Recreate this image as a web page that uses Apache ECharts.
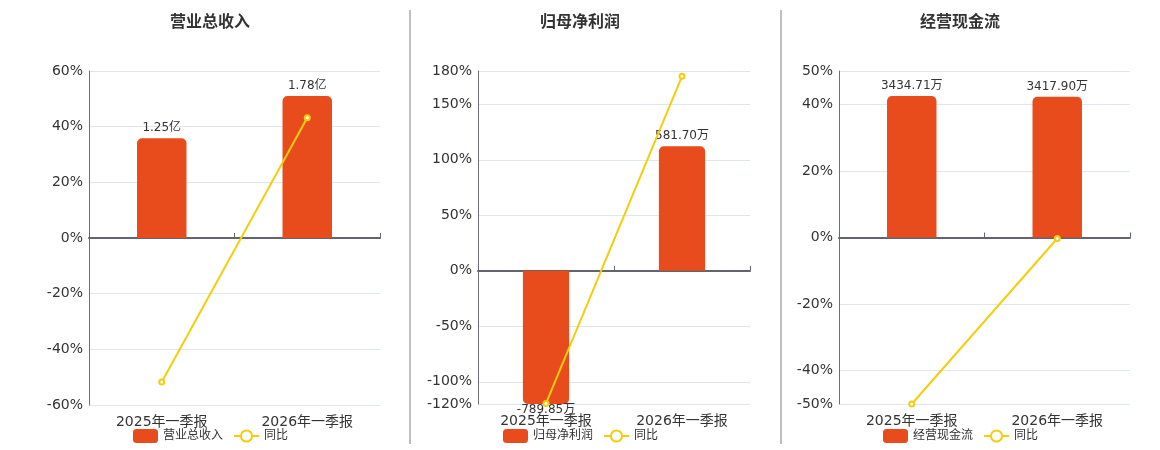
<!DOCTYPE html>
<html>
<head>
<meta charset="utf-8">
<script src="https://cdn.jsdelivr.net/npm/echarts@6/dist/echarts.min.js"></script>
<style>
html,body{margin:0;padding:0;background:#fff;}
#chart{width:1160px;height:450px;}
</style>
</head>
<body>
<div id="chart"></div>
<script>
// ---- data ----
const categories = ['2025年一季报', '2026年一季报'];
const titles = ['营业总收入', '归母净利润', '经营现金流'];
// bar values in 万元
const revenue = [12500, 17800];
const netProfit = [-789.85, 581.70];
const cashFlow = [3434.71, 3417.90];
// year-on-year, %
const revenueYoY = [-51.7, 43.2];
const netProfitYoY = [-119.5, 175.2];
const cashFlowYoY = [-50, -0.3];
// percent axis ranges
const pctMin = [-60, -120, -50];
const pctMax = [60, 180, 50];
// hidden bar-axis ranges (万元), zero aligned with percent axis
const barMin = [-20940, -622, -4045];
const barMax = [20940, 933, 4045];

const barValues = [revenue, netProfit, cashFlow];
const yoyValues = [revenueYoY, netProfitYoY, cashFlowYoY];

const BAR = '#E84C1D';
const LINE = '#F4CD0C';
const FONT = "'DejaVu Sans', 'Noto Sans CJK SC', sans-serif";

const grids = [
  {left: 89, top: 71, width: 291, height: 334},
  {left: 478, top: 71, width: 272, height: 333},
  {left: 839, top: 71, width: 291, height: 333}
];
const centers = [210, 580, 960];
const legendLefts = [133, 503, 883];

function fmt(v) {
  if (Math.abs(v) >= 10000) return (v / 10000).toFixed(2) + '亿';
  return v.toFixed(2) + '万';
}

const option = {
  animation: false,
  textStyle: {fontFamily: FONT},
  title: [], legend: [], grid: [], xAxis: [], yAxis: [], series: [],
  graphic: [
    {type: 'line', shape: {x1: 410, y1: 10, x2: 410, y2: 444}, style: {stroke: '#AAAAAA', lineWidth: 1.5}},
    {type: 'line', shape: {x1: 781, y1: 10, x2: 781, y2: 444}, style: {stroke: '#AAAAAA', lineWidth: 1.5}}
  ]
};

for (let p = 0; p < 3; p++) {
  option.title.push({
    text: titles[p], left: centers[p], top: 15, textAlign: 'center', padding: 0,
    textStyle: {fontSize: 16, fontWeight: 'bold', color: '#333', fontFamily: FONT}
  });
  option.legend.push({
    data: [{name: titles[p], icon: 'roundRect'}, '同比'],
    left: legendLefts[p], top: 429, padding: 0, itemGap: 10, itemWidth: 25, itemHeight: 14,
    textStyle: {fontSize: 12, color: '#333', fontFamily: FONT}
  });
  option.grid.push(grids[p]);
  // labels axis at bottom
  option.xAxis.push({
    type: 'category', gridIndex: p, data: categories,
    axisLine: {show: false}, axisTick: {show: false},
    axisLabel: {fontSize: 14, color: '#333', margin: 10, fontFamily: FONT}
  });
  // zero line axis
  option.xAxis.push({
    type: 'category', gridIndex: p, data: categories,
    axisLine: {show: true, onZero: true, onZeroAxisIndex: 2 * p, lineStyle: {color: '#62656E', width: 2}},
    axisTick: {show: true, length: 5, lineStyle: {color: '#62656E'}},
    axisLabel: {show: false}, splitLine: {show: false}
  });
  option.yAxis.push({
    type: 'value', gridIndex: p, min: pctMin[p], max: pctMax[p],
    axisLine: {show: true, lineStyle: {color: '#6E7079'}},
    axisTick: {show: false},
    axisLabel: {formatter: '{value}%', fontSize: 14, color: '#333', margin: 6, fontFamily: FONT},
    splitLine: {show: true, lineStyle: {color: '#E0E6F1'}}
  });
  option.yAxis.push({
    type: 'value', gridIndex: p, min: barMin[p], max: barMax[p], show: false,
    splitLine: {show: false}
  });
  option.series.push({
    name: titles[p], type: 'bar', xAxisIndex: 2 * p, yAxisIndex: 2 * p + 1,
    barWidth: '34%', clip: true,
    itemStyle: {color: BAR},
    data: barValues[p].map(v => ({
      value: v,
      itemStyle: {borderRadius: v >= 0 ? [5, 5, 0, 0] : [0, 0, 5, 5]},
      label: {position: v >= 0 ? 'top' : 'bottom', distance: v >= 0 ? 4 : 0}
    })),
    label: {show: true, fontSize: 12, color: '#333', fontFamily: FONT, formatter: d => fmt(d.value)}
  });
  option.series.push({
    name: '同比', type: 'line', xAxisIndex: 2 * p, yAxisIndex: 2 * p, z: 5,
    symbol: 'emptyCircle', symbolSize: 5,
    itemStyle: {color: LINE}, lineStyle: {color: LINE, width: 2},
    data: yoyValues[p]
  });
}

const chart = echarts.init(document.getElementById('chart'));
chart.setOption(option);
</script>
</body>
</html>
